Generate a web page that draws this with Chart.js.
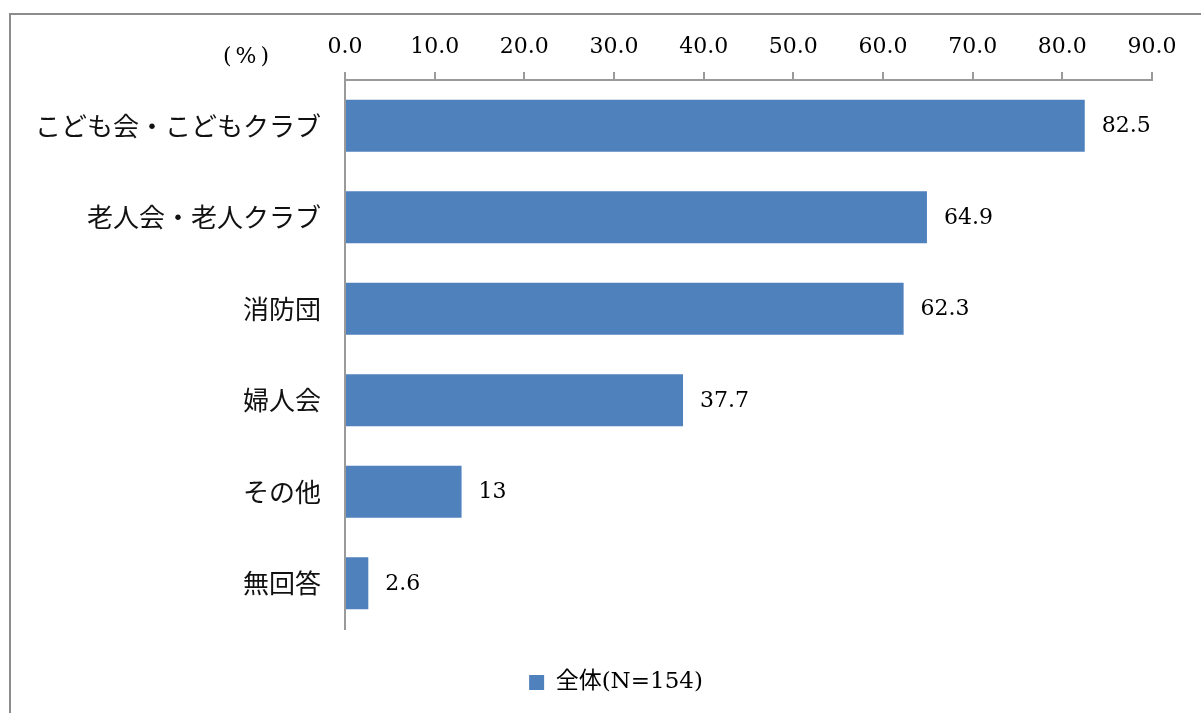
<!DOCTYPE html>
<html>
<head>
<meta charset="utf-8">
<script src="https://cdn.jsdelivr.net/npm/chart.js@4"></script>
<style>
  html, body { margin:0; padding:0; background:#fff; overflow:hidden; }
  #frame { position:absolute; left:9px; top:13px; width:1400px; height:900px;
           border-left:2px solid #8c8c8c; border-top:2px solid #8c8c8c; }
  #wrap { position:absolute; left:0; top:0; width:1201px; height:713px; }
</style>
</head>
<body>
<div id="frame"></div>
<div id="wrap"><canvas id="chart" width="1201" height="713"></canvas></div>
<script>
const categories = ['こども会・こどもクラブ', '老人会・老人クラブ', '消防団', '婦人会', 'その他', '無回答'];
const values = [82.5, 64.9, 62.3, 37.7, 13, 2.6];
const valueLabels = ['82.5', '64.9', '62.3', '37.7', '13', '2.6'];
const seriesName = '全体(N=154)';

const numFont = "'DejaVu Serif', 'Noto Sans CJK JP', serif";
const jpFont = "'Noto Sans CJK JP', sans-serif";
const axisGray = '#9a9a9a';

const padLeft = 20;

const valueLabelPlugin = {
  id:'valueLabels',
  afterDatasetsDraw(chart){
    const {ctx} = chart;
    const meta = chart.getDatasetMeta(0);
    ctx.save();
    ctx.fillStyle = '#000';
    ctx.font = `22px ${numFont}`;
    ctx.textAlign = 'left';
    ctx.textBaseline = 'middle';
    meta.data.forEach((bar, i) => {
      ctx.fillText(valueLabels[i], bar.x + 17, bar.y + 1);
    });
    ctx.restore();
  }
};

const unitPlugin = {
  id:'unitLabel',
  afterDraw(chart){
    const {ctx, chartArea} = chart;
    ctx.save();
    ctx.fillStyle = '#000';
    ctx.font = `22px ${numFont}`;
    if('letterSpacing' in ctx) ctx.letterSpacing = '4px';
    ctx.textAlign = 'center';
    ctx.textBaseline = 'middle';
    ctx.fillText('(%)', chartArea.left - 97, chartArea.top - 23);
    ctx.restore();
  }
};

// the legend in the source sits a little right of the canvas centre
const legendShift = {
  id:'legendShift',
  afterLayout(chart){
    chart.legend.left += 30;
    chart.legend.right += 30;
  }
};

new Chart(document.getElementById('chart'), {
  type:'bar',
  data:{
    labels: categories,
    datasets:[{
      label: seriesName,
      data: values,
      backgroundColor:'#4F81BD',
      borderWidth:0,
      barPercentage:0.57,
      categoryPercentage:1.0
    }]
  },
  options:{
    responsive:false,
    animation:false,
    indexAxis:'y',
    layout:{ padding:{ left:padLeft, right:49, top:0, bottom:9 } },
    scales:{
      x:{
        position:'top',
        min:0, max:90,
        afterFit(scale){ scale.height = 80; },
        ticks:{
          stepSize:10,
          color:'#000',
          padding:12,
          font:{ family:numFont, size:22 },
          callback:v => Number(v).toFixed(1)
        },
        grid:{ drawOnChartArea:false, drawTicks:true, tickLength:8, color:axisGray, lineWidth:2 },
        border:{ display:true, color:axisGray, width:2 }
      },
      y:{
        afterFit(scale){ scale.width = 345 - padLeft; },
        ticks:{
          color:'#111',
          padding:24,
          font:{ family:jpFont, size:26 }
        },
        grid:{ display:false, drawTicks:false },
        border:{ display:true, color:axisGray, width:2 }
      }
    },
    plugins:{
      legend:{
        position:'bottom',
        labels:{
          color:'#000',
          font:{ family:numFont, size:23 },
          usePointStyle:true,
          pointStyle:'rect',
          boxWidth:15,
          boxHeight:15,
          padding:42
        }
      },
      tooltip:{ enabled:false }
    }
  },
  plugins:[valueLabelPlugin, unitPlugin, legendShift]
});
</script>
</body>
</html>
